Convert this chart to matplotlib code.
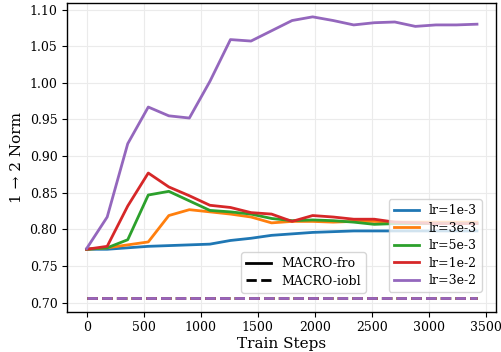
import numpy as np
import matplotlib
matplotlib.use('Agg')
import matplotlib.pyplot as plt
from matplotlib.lines import Line2D

plt.rcParams['font.family'] = ['DejaVu Serif']

steps = [i * 180 for i in range(20)]

lrs = ['lr=1e-3', 'lr=3e-3', 'lr=5e-3', 'lr=1e-2', 'lr=3e-2']
colors = ['#1f77b4', '#ff7f0e', '#2ca02c', '#d62728', '#9467bd']

fro_1e3 = [0.773, 0.773, 0.775, 0.777, 0.778, 0.779, 0.780, 0.785, 0.788, 0.792,
           0.794, 0.796, 0.797, 0.798, 0.798, 0.798, 0.798, 0.798, 0.798, 0.798]
fro_3e3 = [0.773, 0.775, 0.779, 0.783, 0.819, 0.827, 0.824, 0.821, 0.817, 0.809,
           0.811, 0.811, 0.810, 0.811, 0.811, 0.810, 0.810, 0.810, 0.810, 0.810]
fro_5e3 = [0.773, 0.775, 0.786, 0.847, 0.852, 0.839, 0.826, 0.824, 0.821, 0.815,
           0.812, 0.813, 0.812, 0.810, 0.807, 0.808, 0.808, 0.808, 0.808, 0.808]
fro_1e2 = [0.773, 0.777, 0.832, 0.877, 0.858, 0.846, 0.833, 0.830, 0.823, 0.821,
           0.811, 0.819, 0.817, 0.814, 0.814, 0.810, 0.809, 0.808, 0.808, 0.808]
fro_3e2 = [0.774, 0.817, 0.917, 0.967, 0.955, 0.952, 1.002, 1.059, 1.057, 1.071,
           1.085, 1.090, 1.085, 1.079, 1.082, 1.083, 1.077, 1.079, 1.079, 1.080]
fro = [fro_1e3, fro_3e3, fro_5e3, fro_1e2, fro_3e2]

iobl_value = [0.707, 0.707, 0.707, 0.707, 0.707]

fig = plt.figure(figsize=(5.01, 3.52), dpi=100)
ax = fig.add_axes([0.134, 0.1145, 0.857, 0.8775])

handles = []
for lab, c, ys, iv in zip(lrs, colors, fro, iobl_value):
    h, = ax.plot(steps, ys, color=c, lw=2, label=lab)
    ax.plot(steps, [iv] * len(steps), color=c, lw=2, ls='--')
    handles.append(h)

ax.grid(True, color='#ebebeb', lw=0.8)
ax.set_axisbelow(True)
for s in ax.spines.values():
    s.set_color('black')
    s.set_linewidth(1.0)
ax.tick_params(labelsize=9, length=3.5)
ax.set_xticks(range(0, 3501, 500))
ax.set_yticks(np.arange(0.70, 1.101, 0.05))
ax.set_xlabel('Train Steps', fontsize=11, labelpad=2)
ax.set_ylabel('1 → 2 Norm', fontsize=11)

leg1 = ax.legend(handles=handles, loc='lower right', fontsize=9,
                 bbox_to_anchor=(0.966, 0.064), borderaxespad=0,
                 handlelength=2.0, labelspacing=0.35)
ax.add_artist(leg1)
style_handles = [Line2D([], [], color='black', lw=2, ls='-'),
                 Line2D([], [], color='black', lw=2, ls='--')]
ax.legend(style_handles, ['MACRO-fro', 'MACRO-iobl'], loc='lower right',
          bbox_to_anchor=(0.696, 0.062), borderaxespad=0, fontsize=9,
          handlelength=2.0, labelspacing=0.35)

fig.savefig('out.png', dpi=100)
